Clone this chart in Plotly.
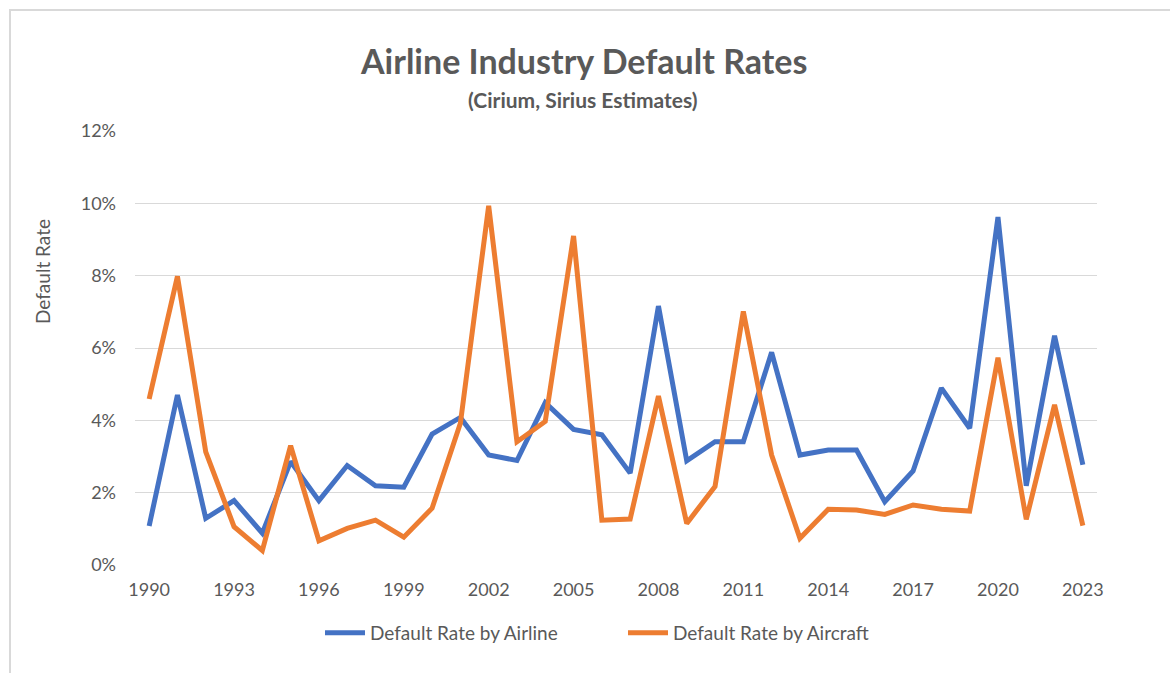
import plotly.graph_objects as go

years = list(range(1990, 2024))
airline = [1.08, 4.70, 1.29, 1.78, 0.88, 2.86, 1.78, 2.75, 2.19, 2.15, 3.62, 4.08,
           3.04, 2.89, 4.49, 3.75, 3.60, 2.54, 7.16, 2.88, 3.41, 3.41, 5.88, 3.04,
           3.18, 3.18, 1.75, 2.60, 4.89, 3.78, 9.62, 2.19, 6.34, 2.77]
aircraft = [4.59, 7.98, 3.13, 1.06, 0.40, 3.30, 0.67, 1.01, 1.24, 0.77, 1.57, 3.92,
            9.93, 3.41, 3.97, 9.10, 1.24, 1.27, 4.67, 1.15, 2.17, 7.01, 3.04, 0.74,
            1.54, 1.52, 1.40, 1.66, 1.54, 1.49, 5.73, 1.26, 4.43, 1.09]
x_ticks = list(range(1990, 2024, 3))
y_ticks = [0, 2, 4, 6, 8, 10, 12]
y_tick_labels = ["0%", "2%", "4%", "6%", "8%", "10%", "12%"]

FONT = "Lato"
GRAY = "#595959"

fig = go.Figure()
fig.add_trace(go.Scatter(x=years, y=airline, mode="lines", name="Default Rate by Airline",
                         line=dict(color="#4472C4", width=5)))
fig.add_trace(go.Scatter(x=years, y=aircraft, mode="lines", name="Default Rate by Aircraft",
                         line=dict(color="#ED7D31", width=5)))

W, H = 1170, 673
L, R, T, B = 135, 73, 131, 108
pw = W - L - R
ph = H - T - B

def px_x(x):
    return (x - L) / pw

def px_y(y):
    return (H - B - y) / ph

fig.update_layout(
    width=W, height=H,
    margin=dict(l=L, r=R, t=T, b=B),
    paper_bgcolor="white", plot_bgcolor="white",
    font=dict(family=FONT, color=GRAY, size=18),
    showlegend=True,
    legend=dict(orientation="h", x=px_x(320), xanchor="left", y=px_y(633), yanchor="middle",
                font=dict(size=19, color=GRAY), itemwidth=40, tracegroupgap=0,
                entrywidth=248, entrywidthmode="pixels"),
    xaxis=dict(range=[1989.5, 2023.5], tickvals=x_ticks, ticktext=[str(v) for v in x_ticks],
               showgrid=False, zeroline=False, showline=False, ticks="",
               ticklabelstandoff=12,
               tickfont=dict(size=18, color=GRAY)),
    yaxis=dict(range=[0, 12], tickvals=y_ticks, ticktext=y_tick_labels,
               showgrid=True, gridcolor="#D9D9D9", gridwidth=1, zeroline=False,
               showline=False, ticks="", ticklabelstandoff=18,
               tickfont=dict(size=18, color=GRAY)),
    annotations=[
        dict(text="<b>Airline Industry Default Rates</b>", x=px_x(583), y=px_y(60),
             xref="paper", yref="paper", showarrow=False, xanchor="center", yanchor="middle",
             font=dict(size=34, color=GRAY, family=FONT)),
        dict(text="<b>(Cirium, Sirius Estimates)</b>", x=px_x(583), y=px_y(99),
             xref="paper", yref="paper", showarrow=False, xanchor="center", yanchor="middle",
             font=dict(size=21, color=GRAY, family=FONT)),
        dict(text="Default Rate", x=px_x(42), y=px_y(272), textangle=-90,
             xref="paper", yref="paper", showarrow=False, xanchor="center", yanchor="middle",
             font=dict(size=19, color=GRAY, family=FONT)),
    ],
    shapes=[
        dict(type="rect", xref="paper", yref="paper",
             x0=px_x(10), x1=px_x(1200), y0=px_y(700), y1=px_y(10),
             line=dict(color="#D9D9D9", width=2), fillcolor="rgba(0,0,0,0)", layer="below"),
    ],
)

fig.write_html("out.html")
